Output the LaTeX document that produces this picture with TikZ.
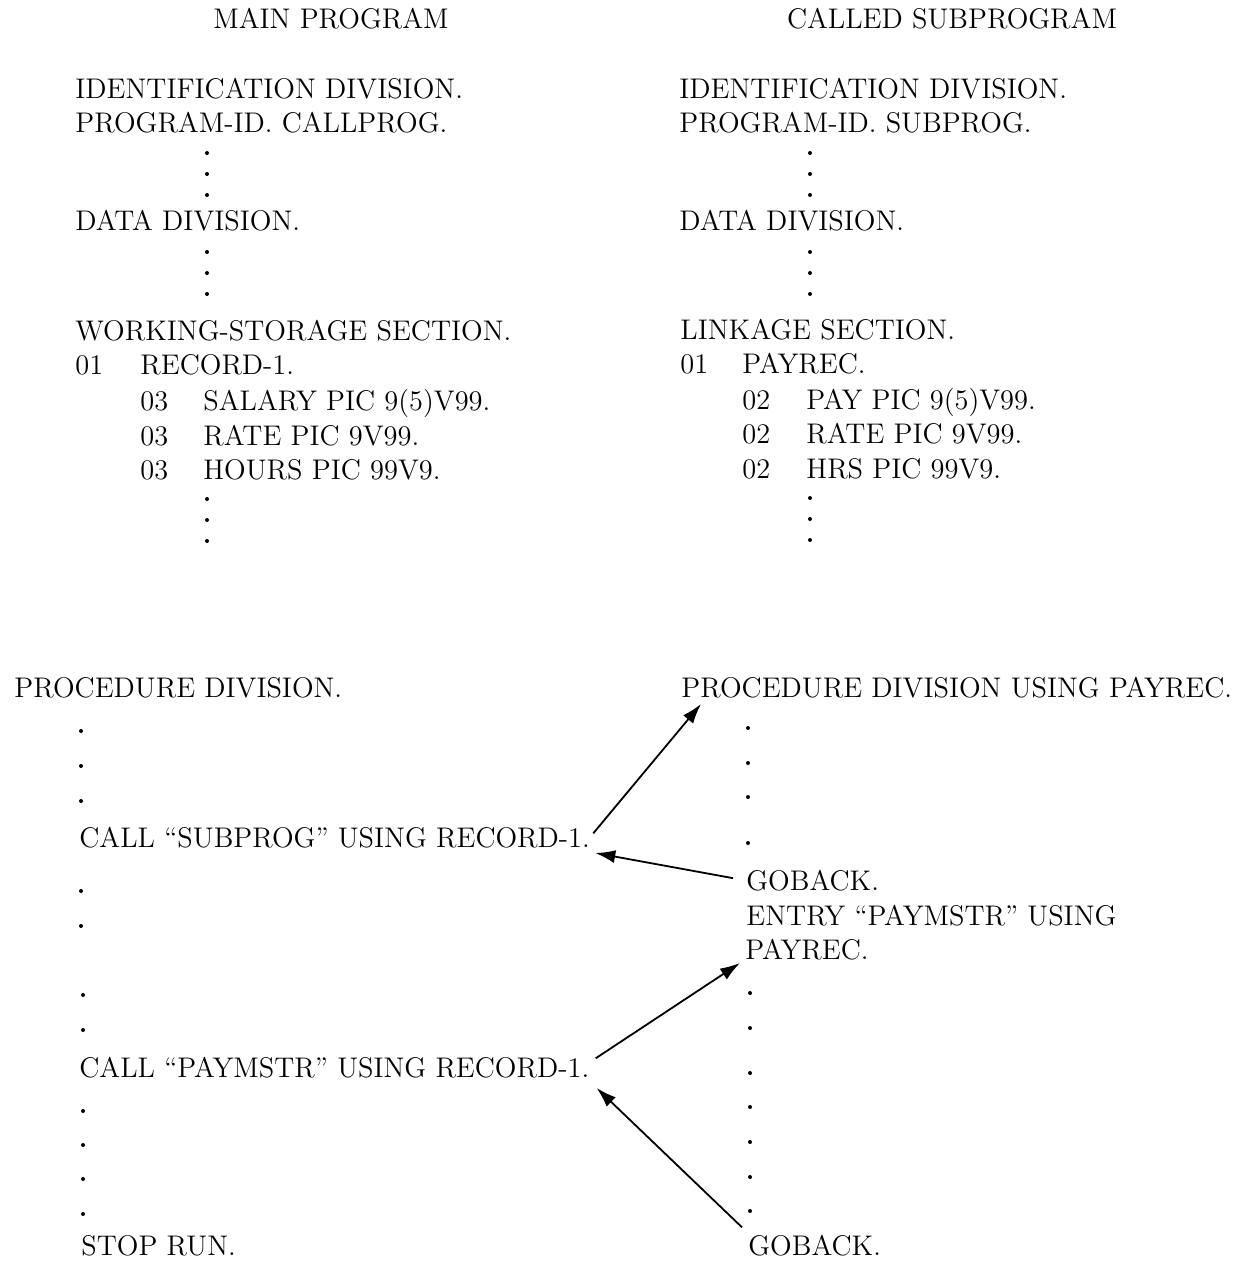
\documentclass[tikz,border=0pt]{standalone}
\usetikzlibrary{arrows.meta}

\newcommand{\cobolfont}{\fontsize{14.2}{16}\selectfont}

\begin{document}
\begin{tikzpicture}[
  x=0.5pt, y=-0.5pt,
  every node/.style = {font=\cobolfont, inner sep=0pt},
  line/.style       = {anchor=base west},
  head/.style       = {anchor=base},
  flow/.style       = {-{Latex[length=10pt, width=6.5pt]}, line width=0.9pt},
]
\useasboundingbox (0,0) rectangle (1239,1261);

% ── Headings ────────────────────────────────────────────────────────────────
\node[head] (mainhd) at (331, 29) {MAIN PROGRAM};
\node[head] (subhd)  at (952, 29) {CALLED SUBPROGRAM};

% ── Main program: identification and data ───────────────────────────────────
\node[line] (mid)   at (75, 99)  {IDENTIFICATION DIVISION.};
\node[line] (mpgm)  at (75, 133) {PROGRAM-ID. CALLPROG.};
\node[line] (mdata) at (75, 231) {DATA DIVISION.};
\node[line] (mws)   at (75, 341) {WORKING-STORAGE SECTION.};
\node[line] (mlv1)  at (75, 375) {01};
\node[line] (mrec)  at (140, 375) {RECORD-1.};
\foreach \nm/\yb/\txt in {msal/410/SALARY PIC 9(5)V99.,
                          mrate/445/RATE PIC 9V99.,
                          mhrs/479/HOURS PIC 99V9.} {
  \node[line] at (140, \yb) {03};
  \node[line] (\nm) at (203, \yb) {\txt};
}
\foreach \yd in {153, 174, 195, 252, 273, 294, 499, 520, 541}
  \fill (207, \yd) circle (1pt);

% ── Subprogram: identification and linkage ──────────────────────────────────
\node[line] (sid)   at (679, 99)  {IDENTIFICATION DIVISION.};
\node[line] (spgm)  at (679, 133) {PROGRAM-ID. SUBPROG.};
\node[line] (sdata) at (679, 231) {DATA DIVISION.};
\node[line] (slink) at (680, 340) {LINKAGE SECTION.};
\node[line] (slv1)  at (680, 374) {01};
\node[line] (srec)  at (742, 374) {PAYREC.};
\foreach \nm/\yb/\txt in {spay/409/PAY PIC 9(5)V99.,
                          srate/444/RATE PIC 9V99.,
                          shrs/478/HRS PIC 99V9.} {
  \node[line] at (742, \yb) {02};
  \node[line] (\nm) at (806, \yb) {\txt};
}
\foreach \yd in {153, 174, 195, 252, 273, 294, 498, 519, 540}
  \fill (810, \yd) circle (1pt);

% ── Main program: procedure division ────────────────────────────────────────
\node[line] (mproc) at (14, 697)  {PROCEDURE DIVISION.};
\node[line] (call1) at (79, 847)  {CALL ``SUBPROG'' USING RECORD-1.};
\node[line] (call2) at (79, 1077) {CALL ``PAYMSTR'' USING RECORD-1.};
\node[line] (stop)  at (81, 1255) {STOP RUN.};
\foreach \yd in {731, 766, 801, 891, 926}
  \fill (81, \yd) circle (1pt);
\foreach \yd in {995, 1030, 1111, 1145, 1179, 1214}
  \fill (83, \yd) circle (1pt);

% ── Subprogram: procedure division ──────────────────────────────────────────
\node[line] (sproc)  at (681, 697)  {PROCEDURE DIVISION USING PAYREC.};
\node[line] (gob1)   at (746, 890)  {GOBACK.};
\node[line] (entry)  at (746, 925)  {ENTRY ``PAYMSTR'' USING};
\node[line] (payrec) at (745, 959)  {PAYREC.};
\node[line] (gob2)   at (748, 1255) {GOBACK.};
\foreach \yd in {728, 763, 797, 843}
  \fill (748, \yd) circle (1pt);
\foreach \yd in {993, 1028, 1073, 1107, 1142, 1177, 1211}
  \fill (750, \yd) circle (1pt);

% ── Control flow ────────────────────────────────────────────────────────────
\draw[flow] ([shift={(3,7)}]call1.north east) -- ([shift={(20,6)}]sproc.south west);
\draw[flow] ([shift={(-13,-2)}]gob1.west) -- ([shift={(5,5)}]call1.south east);
\draw[flow] ([shift={(6,2)}]call2.north east) -- ([shift={(-5,3)}]payrec.south west);
\draw[flow] ([shift={(-6,-7)}]gob2.north west) -- ([shift={(7,10)}]call2.south east);

\end{tikzpicture}
\end{document}
